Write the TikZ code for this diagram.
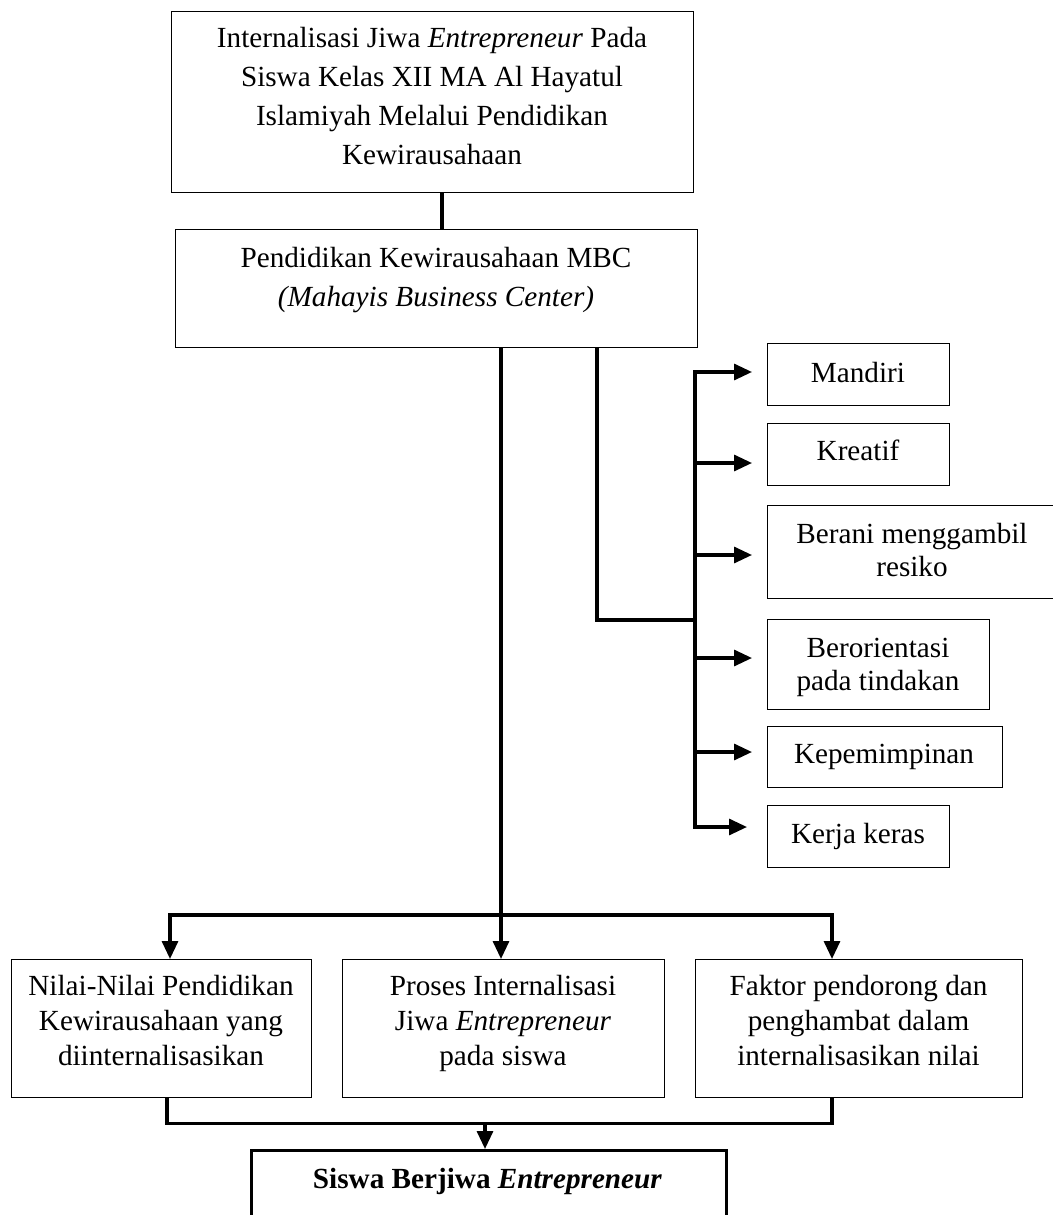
\documentclass[tikz,border=0pt]{standalone}
\usepackage{fontspec}
\setmainfont{Liberation Serif}
\usetikzlibrary{arrows.meta}
\newcommand\mylines[2]{\parbox[t]{#1}{\centering #2}}
\begin{document}
\begin{tikzpicture}[x=1pt,y=-1pt,
  box/.style={draw, line width=1.4pt, inner sep=0, anchor=north west},
  txt/.style={inner sep=0, anchor=base, font=\fontsize{29.2}{39}\selectfont},
  txts/.style={inner sep=0, anchor=base, font=\fontsize{29.2}{33}\selectfont},
  txtb/.style={inner sep=0, anchor=base, font=\fontsize{29.2}{35}\selectfont},
  conn/.style={line width=3.2pt},
  arr/.style={line width=3.2pt, -{Triangle[length=18pt,width=16pt]}},
]
\useasboundingbox (0,0) rectangle (1052,1215);
\fill[white] (0,0) rectangle (1052,1215);

% top boxes
\node[box, minimum width=522, minimum height=181] (top) at (171,11) {};
\node[txt] (ttop) at (432,48) {\mylines{510pt}{Internalisasi Jiwa \textit{Entrepreneur} Pada\\Siswa Kelas XII MA Al Hayatul\\Islamiyah Melalui Pendidikan\\Kewirausahaan}};
\node[box, minimum width=522, minimum height=118] (mbc) at (175,229) {};
\node[txt] (tmbc) at (436,267) {\mylines{510pt}{Pendidikan Kewirausahaan MBC\\\textit{(Mahayis Business Center)}}};

% right boxes
\node[box, minimum width=182, minimum height=62] (man) at (767,343) {};
\node[txts] (tman) at (858,382) {Mandiri};
\node[box, minimum width=182, minimum height=62] (kre) at (767,423) {};
\node[txts] (tkre) at (858,460) {Kreatif};
\node[box, minimum width=300, minimum height=93] (ber) at (767,505) {};
\node[txts] (tber) at (912,543) {\mylines{280pt}{Berani menggambil\\resiko}};
\node[box, minimum width=222, minimum height=90] (ori) at (767,619) {};
\node[txts] (tori) at (878,657) {\mylines{215pt}{Berorientasi\\pada tindakan}};
\node[box, minimum width=235, minimum height=61] (kep) at (767,726) {};
\node[txts] (tkep) at (884,763) {Kepemimpinan};
\node[box, minimum width=182, minimum height=62] (ker) at (767,805) {};
\node[txts] (tker) at (858,843) {Kerja keras};

% bottom boxes
\node[box, minimum width=300, minimum height=138] (na) at (11,959) {};
\node[txtb] (tna) at (161,995) {\mylines{296pt}{Nilai-Nilai Pendidikan\\Kewirausahaan yang\\diinternalisasikan}};
\node[box, minimum width=322, minimum height=138] (nb) at (342,959) {};
\node[txtb] (tnb) at (503,995) {\mylines{315pt}{Proses Internalisasi\\Jiwa \textit{Entrepreneur}\\pada siswa}};
\node[box, minimum width=327, minimum height=138] (nc) at (695,959) {};
\node[txtb] (tnc) at (858.5,995) {\mylines{320pt}{Faktor pendorong dan\\penghambat dalam\\internalisasikan nilai}};

% final box
\node[box, line width=3pt, minimum width=475, minimum height=110] (fin) at (250,1149) {};
\node[txt] (tfin) at (487.5,1188) {\textbf{Siswa Berjiwa \textit{Entrepreneur}}};

% connectors
\draw[conn] ([xshift=271pt]top.south west) -- ([xshift=267pt]mbc.north west);

\coordinate (bus) at (501,915);
\coordinate (busL) at (170,915);
\coordinate (busR) at (832,915);
\draw[conn] ([xshift=326pt]mbc.south west) -- (bus);
\draw[conn, line cap=rect] (busL) -- (busR);
\draw[arr] (busL) -- (busL |- na.north);
\draw[arr] (bus) -- (bus |- nb.north);
\draw[arr] (busR) -- (busR |- nc.north);

\coordinate (rb) at (597,620);
\coordinate (vb) at (695,620);
\draw[conn] ([xshift=422pt]mbc.south west) -- (rb) -- (vb);
\coordinate (a1) at (695,372);
\coordinate (a2) at (695,463);
\coordinate (a3) at (695,555);
\coordinate (a4) at (695,658);
\coordinate (a5) at (695,752);
\coordinate (a6) at (695,827);
\draw[conn, line cap=rect] (a1) -- (a6);
\draw[arr, shorten >=15pt] (a1) -- (a1 -| man.west);
\draw[arr, shorten >=15pt] (a2) -- (a2 -| kre.west);
\draw[arr, shorten >=15pt] (a3) -- (a3 -| ber.west);
\draw[arr, shorten >=15pt] (a4) -- (a4 -| ori.west);
\draw[arr, shorten >=15pt] (a5) -- (a5 -| kep.west);
\draw[arr, shorten >=20pt] (a6) -- (a6 -| ker.west);

\coordinate (fb) at (485,1122);
\draw[conn] ([xshift=156pt]na.south west) -- ++(0,25) -| ([xshift=137pt]nc.south west);
\draw[arr] (fb) -- (fb |- fin.north);
\end{tikzpicture}
\end{document}
